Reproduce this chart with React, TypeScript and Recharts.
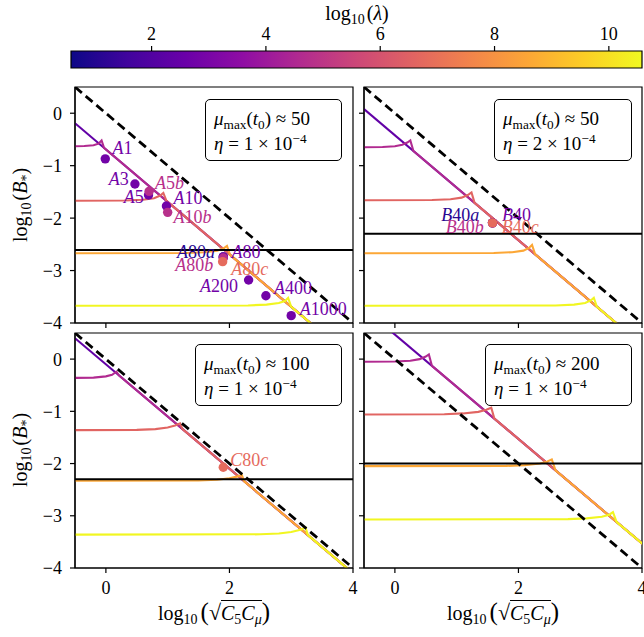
import React from "react";
import { ComposedChart, Line, Scatter, XAxis, YAxis, ReferenceLine, ReferenceArea } from "recharts";

const W = 644;
const H = 637;
const FONT = "'Liberation Serif', 'DejaVu Serif', serif";

// ---------- colour bar ----------
const lambdaRange: [number, number] = [0.59, 10.58];
const lambdaTicks = [2, 4, 6, 8, 10];
const plasmaStops = ["#0d0887", "#41049d", "#6a00a8", "#8f0da4", "#b12a90", "#cc4778", "#e16462", "#f2844b", "#fca636", "#fcce25", "#f0f921"];

// ---------- shared axes ----------
const xDomain: [number, number] = [-0.5, 4];
const yDomain: [number, number] = [-4, 0.5];
const xTicks = [0, 2, 4];
const yTicks = [0, -1, -2, -3, -4];
const dashedLine: [number, number][] = [[-0.5, 0.5], [4, -4]];

// ---------- panel A : mu=50, eta=1e-4 ----------
const lamTraj = [2.4, 4.6, 6.6, 8.6, 10.5];
const A_t0: [number, number][] = [[-0.5, -0.19], [3.41, -4.1]];
const A_t1: [number, number][] = [[-0.5, -0.63], [-0.35, -0.625], [-0.2, -0.61], [-0.12, -0.58], [-0.07, -0.52], [-0.03, -0.66], [3.41, -4.1]];
const A_t2: [number, number][] = [[-0.5, -1.67], [0.3, -1.665], [0.6, -1.65], [0.78, -1.62], [0.88, -1.57], [0.93, -1.52], [0.98, -1.67], [3.41, -4.1]];
const A_t3: [number, number][] = [[-0.5, -2.67], [1.3, -2.665], [1.6, -2.65], [1.8, -2.62], [1.9, -2.58], [1.96, -2.53], [2.01, -2.7], [3.41, -4.1]];
const A_t4: [number, number][] = [[-0.5, -3.67], [2.3, -3.665], [2.6, -3.65], [2.8, -3.62], [2.9, -3.58], [2.95, -3.52], [3.0, -3.69], [3.41, -4.1]];
const A_hline = -2.61;
const A_dotNames = ["A1", "A3", "A5", "A5b", "A10", "A10b", "A200", "A400", "A1000", "A80a", "A80", "A80b", "A80c"];
const A_dotX = [-0.01, 0.47, 0.69, 0.7, 0.98, 1.0, 2.31, 2.59, 3.0, 1.9, 1.9, 1.9, 1.89];
const A_dotY = [-0.87, -1.35, -1.56, -1.49, -1.77, -1.89, -3.18, -3.48, -3.86, -2.74, -2.74, -2.76, -2.83];
const A_dotLam = [2.8, 2.8, 2.8, 4.8, 2.8, 4.8, 2.8, 2.8, 2.8, 1.1, 2.8, 4.8, 6.8];
const A_labX = [0.27, 0.21, 0.45, 1.03, 1.33, 1.4, 1.83, 3.03, 3.52, 1.46, 2.27, 1.43, 2.33];
const A_labY = [-0.67, -1.25, -1.6, -1.33, -1.61, -1.97, -3.3, -3.33, -3.73, -2.64, -2.64, -2.89, -2.97];

// ---------- panel B : mu=50, eta=2e-4 ----------
const B_t0: [number, number][] = [[-0.5, 0.08], [3.68, -4.1]];
const B_t1: [number, number][] = [[-0.5, -0.65], [-0.2, -0.645], [0.0, -0.63], [0.12, -0.6], [0.2, -0.56], [0.25, -0.52], [0.3, -0.72], [3.68, -4.1]];
const B_t2: [number, number][] = [[-0.5, -1.66], [0.6, -1.655], [0.9, -1.64], [1.08, -1.61], [1.18, -1.56], [1.24, -1.51], [1.29, -1.71], [3.68, -4.1]];
const B_t3: [number, number][] = [[-0.5, -2.67], [1.6, -2.665], [1.9, -2.65], [2.08, -2.62], [2.17, -2.57], [2.22, -2.51], [2.27, -2.69], [3.68, -4.1]];
const B_t4: [number, number][] = [[-0.5, -3.67], [2.6, -3.665], [2.9, -3.65], [3.08, -3.62], [3.17, -3.57], [3.22, -3.52], [3.27, -3.69], [3.68, -4.1]];
const B_hline = -2.3;
const B_dotNames = ["B40a", "B40", "B40b", "B40c"];
const B_dotX = [1.58, 1.58, 1.58, 1.58];
const B_dotY = [-2.09, -2.09, -2.09, -2.09];
const B_dotLam = [1.1, 2.8, 4.8, 6.8];
const B_labX = [1.06, 1.97, 1.13, 2.03];
const B_labY = [-1.94, -1.94, -2.16, -2.16];

// ---------- panel C : mu=100, eta=1e-4 ----------
const C_t0: [number, number][] = [[-0.5, 0.4], [4.0, -4.1]];
const C_t1: [number, number][] = [[-0.5, -0.36], [-0.2, -0.355], [0.0, -0.33], [0.1, -0.3], [0.17, -0.24], [0.21, -0.31], [4.0, -4.1]];
const C_t2: [number, number][] = [[-0.5, -1.36], [0.5, -1.355], [0.8, -1.34], [1.0, -1.31], [1.12, -1.27], [1.2, -1.23], [1.24, -1.34], [4.0, -4.1]];
const C_t3: [number, number][] = [[-0.5, -2.33], [1.5, -2.325], [1.8, -2.31], [2.0, -2.28], [2.12, -2.25], [2.2, -2.22], [2.24, -2.34], [4.0, -4.1]];
const C_t4: [number, number][] = [[-0.5, -3.36], [2.5, -3.355], [2.8, -3.34], [3.0, -3.31], [3.15, -3.27], [3.23, -3.22], [3.27, -3.37], [4.0, -4.1]];
const C_hline = -2.3;
const C_dotNames = ["C80c"];
const C_dotX = [1.9];
const C_dotY = [-2.07];
const C_dotLam = [6.8];
const C_labX = [2.32];
const C_labY = [-1.93];

// ---------- panel D : mu=200, eta=1e-4 ----------
const D_t0: [number, number][] = [[-0.1, 0.57], [4.2, -3.73]];
const D_t1: [number, number][] = [[-0.5, -0.05], [0.0, -0.045], [0.25, -0.03], [0.4, 0.0], [0.5, 0.05], [0.55, 0.09], [0.6, -0.13], [4.2, -3.73]];
const D_t2: [number, number][] = [[-0.5, -1.06], [0.8, -1.055], [1.1, -1.04], [1.35, -1.01], [1.48, -0.97], [1.56, -0.93], [1.61, -1.14], [4.2, -3.73]];
const D_t3: [number, number][] = [[-0.5, -2.05], [1.8, -2.045], [2.1, -2.03], [2.35, -2.0], [2.47, -1.96], [2.54, -1.92], [2.6, -2.13], [4.2, -3.73]];
const D_t4: [number, number][] = [[-0.5, -3.07], [2.8, -3.065], [3.1, -3.05], [3.35, -3.02], [3.47, -2.98], [3.53, -2.93], [3.59, -3.12], [4.2, -3.73]];
const D_hline = -2.0;

// ---------- info boxes ----------
const boxMu = [50, 50, 100, 200];
const boxEtaMant = [1, 2, 1, 1];
const boxEtaExp = [4, 4, 4, 4];

// ---------- helpers ----------
function hexToRgb(h: string) {
  return [parseInt(h.slice(1, 3), 16), parseInt(h.slice(3, 5), 16), parseInt(h.slice(5, 7), 16)];
}
function plasma(lam: number) {
  let t = (lam - lambdaRange[0]) / (lambdaRange[1] - lambdaRange[0]);
  t = Math.max(0, Math.min(1, t));
  const n = plasmaStops.length - 1;
  const i = Math.min(n - 1, Math.floor(t * n));
  const f = t * n - i;
  const a = hexToRgb(plasmaStops[i]);
  const b = hexToRgb(plasmaStops[i + 1]);
  const c = a.map((v, k) => Math.round(v + (b[k] - v) * f));
  return `rgb(${c[0]},${c[1]},${c[2]})`;
}
const toPts = (arr: [number, number][]) => arr.map(([x, y]) => ({ x, y }));
const fmt = (v: number) => (v < 0 ? `\u2212${Math.abs(v)}` : `${v}`);

function SerifTick(props: any) {
  const { x, y, payload, textAnchor, verticalAnchor } = props;
  const dy = verticalAnchor === "start" ? "0.71em" : verticalAnchor === "middle" ? "0.355em" : "0";
  return (
    <text x={x} y={y} dy={dy} textAnchor={textAnchor} fill="#000" fontSize={18} style={{ fontFamily: FONT }}>
      {fmt(payload.value)}
    </text>
  );
}
const NoTick = () => <g />;

function LabelText(props: any) {
  const { cx, cy, payload } = props;
  const m = /^([A-Z])(\d+)([a-z]?)$/.exec(payload.name);
  const color = plasma(payload.lam);
  return (
    <text x={cx} y={cy} textAnchor="middle" dominantBaseline="central" fill={color} fontSize={18} style={{ fontFamily: FONT }}>
      {m ? (
        <>
          <tspan fontStyle="italic">{m[1]}</tspan>
          <tspan>{m[2]}</tspan>
          {m[3] ? <tspan fontStyle="italic">{m[3]}</tspan> : null}
        </>
      ) : (
        payload.name
      )}
    </text>
  );
}
function DotShape(props: any) {
  const { cx, cy, payload } = props;
  return <circle cx={cx} cy={cy} r={4.7} fill={plasma(payload.lam)} />;
}

type Rect = { left: number; top: number; right: number; bottom: number };

function Panel(props: {
  rect: Rect;
  trajs: [number, number][][];
  hline: number;
  names?: string[];
  dx?: number[];
  dy?: number[];
  dl?: number[];
  lx?: number[];
  ly?: number[];
  showX: boolean;
  showY: boolean;
}) {
  const { rect, trajs, hline, names = [], dx = [], dy = [], dl = [], lx = [], ly = [], showX, showY } = props;
  const xAxisH = 40;
  const yAxisW = 40;
  const margin = { top: rect.top, left: rect.left - yAxisW, right: W - rect.right, bottom: H - rect.bottom - xAxisH };
  const dots = names.map((n, i) => ({ x: dx[i], y: dy[i], lam: dl[i], name: n }));
  const labels = names.map((n, i) => ({ x: lx[i], y: ly[i], lam: dl[i], name: n }));
  return (
    <div style={{ position: "absolute", left: 0, top: 0 }}>
      <ComposedChart width={W} height={H} margin={margin} style={{ fontFamily: FONT }}>
        <XAxis
          type="number"
          dataKey="x"
          domain={xDomain}
          ticks={xTicks}
          allowDataOverflow
          height={xAxisH}
          tickSize={5}
          tickMargin={8}
          stroke="#000"
          tick={showX ? <SerifTick /> : <NoTick />}
          tickLine={{ stroke: "#000", strokeWidth: 1.2 }}
          axisLine={{ stroke: "#000", strokeWidth: 1.2 }}
          interval={0}
        />
        <YAxis
          type="number"
          dataKey="y"
          domain={yDomain}
          ticks={yTicks}
          allowDataOverflow
          width={yAxisW}
          tickSize={5}
          tickMargin={8}
          stroke="#000"
          tick={showY ? <SerifTick /> : <NoTick />}
          tickLine={{ stroke: "#000", strokeWidth: 1.2 }}
          axisLine={{ stroke: "#000", strokeWidth: 1.2 }}
          interval={0}
        />
        {trajs.map((t, i) => (
          <Line
            key={"t" + i}
            data={toPts(t)}
            dataKey="y"
            type="linear"
            stroke={plasma(lamTraj[i])}
            strokeWidth={2.1}
            dot={false}
            activeDot={false}
            isAnimationActive={false}
          />
        ))}
        <ReferenceLine y={hline} stroke="#000" strokeWidth={2} />
        <Line
          data={toPts(dashedLine)}
          dataKey="y"
          type="linear"
          stroke="#000"
          strokeWidth={2.8}
          strokeDasharray="9 5"
          dot={false}
          activeDot={false}
          isAnimationActive={false}
        />
        {dots.length > 0 && <Scatter data={dots} shape={DotShape} isAnimationActive={false} />}
        {labels.length > 0 && <Scatter data={labels} shape={LabelText} isAnimationActive={false} />}
        <ReferenceArea x1={xDomain[0]} x2={xDomain[1]} y1={yDomain[0]} y2={yDomain[1]} fill="none" fillOpacity={0} stroke="#000" strokeWidth={1.2} />
      </ComposedChart>
    </div>
  );
}

const Sub = ({ children }: any) => (
  <span style={{ fontSize: "0.7em", position: "relative", top: "0.3em" }}>{children}</span>
);
const Sup = ({ children }: any) => (
  <span style={{ fontSize: "0.7em", position: "relative", top: "-0.5em" }}>{children}</span>
);

function InfoBox({ left, top, width, i }: { left: number; top: number; width: number; i: number }) {
  return (
    <div
      style={{
        position: "absolute",
        left,
        top,
        width,
        height: 62,
        border: "1.3px solid #000",
        borderRadius: 5,
        boxSizing: "border-box",
        background: "#fff",
        fontFamily: FONT,
        fontSize: 19,
        lineHeight: "23px",
        padding: "7px 0 0 8px",
        whiteSpace: "nowrap",
        color: "#000",
      }}
    >
      <div>
        <i>μ</i>
        <Sub>max</Sub>(<i>t</i>
        <Sub>0</Sub>) ≈ {boxMu[i]}
      </div>
      <div>
        <i>η</i> = {boxEtaMant[i]} × 10<Sup>−{boxEtaExp[i]}</Sup>
      </div>
    </div>
  );
}

function YLabel({ cy }: { cy: number }) {
  return (
    <div
      style={{
        position: "absolute",
        left: 21,
        top: cy,
        transform: "translate(-50%, -50%) rotate(-90deg)",
        fontFamily: FONT,
        fontSize: 20,
        whiteSpace: "nowrap",
        lineHeight: "22px",
      }}
    >
      log<Sub>10</Sub>
      <span style={{ marginLeft: 2 }}>(</span>
      <i>B</i>
      <Sub>*</Sub>)
    </div>
  );
}
function XLabel({ cx }: { cx: number }) {
  return (
    <div
      style={{
        position: "absolute",
        left: cx,
        top: 614,
        transform: "translate(-50%, -50%)",
        fontFamily: FONT,
        fontSize: 20,
        whiteSpace: "nowrap",
        lineHeight: "26px",
      }}
    >
      log<Sub>10</Sub>
      <span style={{ fontSize: "1.25em", marginLeft: 3 }}>(</span>
      <span style={{ fontSize: "1.1em" }}>√</span>
      <span style={{ borderTop: "1px solid #000", paddingTop: 1 }}>
        <i>C</i>
        <Sub>5</Sub>
        <i>C</i>
        <Sub>
          <i>μ</i>
        </Sub>
      </span>
      <span style={{ fontSize: "1.25em" }}>)</span>
    </div>
  );
}

function ColorBar() {
  const cbData = [{ x: lambdaRange[0], y: 0 }, { x: lambdaRange[1], y: 1 }];
  return (
    <div style={{ position: "absolute", left: 0, top: 0 }}>
      <ComposedChart width={W} height={80} margin={{ top: 51 - 30, left: 71, right: W - 642, bottom: 80 - 68 }} data={cbData} style={{ fontFamily: FONT }}>
        <defs>
          <linearGradient id="plasmaGrad" x1="0" y1="0" x2="1" y2="0">
            {plasmaStops.map((c, i) => (
              <stop key={i} offset={`${(i / (plasmaStops.length - 1)) * 100}%`} stopColor={c} />
            ))}
          </linearGradient>
        </defs>
        <XAxis
          type="number"
          dataKey="x"
          orientation="top"
          domain={lambdaRange}
          ticks={lambdaTicks}
          allowDataOverflow
          height={30}
          tickSize={5}
          tickMargin={6}
          stroke="#000"
          tick={<SerifTick />}
          axisLine={false}
          tickLine={{ stroke: "#000", strokeWidth: 1.2 }}
          interval={0}
        />
        <YAxis type="number" dataKey="y" domain={[0, 1]} hide />
        <ReferenceArea x1={lambdaRange[0]} x2={lambdaRange[1]} y1={0} y2={1} fill="url(#plasmaGrad)" fillOpacity={1} stroke="#000" strokeWidth={1.2} />
      </ComposedChart>
    </div>
  );
}

export default function App() {
  const rA: Rect = { left: 75, top: 87, right: 353, bottom: 323 };
  const rB: Rect = { left: 364, top: 87, right: 642, bottom: 323 };
  const rC: Rect = { left: 75, top: 333, right: 353, bottom: 568 };
  const rD: Rect = { left: 364, top: 333, right: 642, bottom: 568 };
  return (
    <div style={{ position: "relative", width: W, height: H, overflow: "hidden", background: "#fff", fontFamily: FONT }}>
      <style>{"body{margin:0;}"}</style>
      <ColorBar />
      <div
        style={{
          position: "absolute",
          left: 357,
          top: 14,
          transform: "translate(-50%, -50%)",
          fontFamily: FONT,
          fontSize: 20,
          whiteSpace: "nowrap",
          lineHeight: "22px",
        }}
      >
        log<Sub>10</Sub>
        <span style={{ marginLeft: 2 }}>(</span>
        <i>λ</i>)
      </div>
      <Panel rect={rA} trajs={[A_t0, A_t1, A_t2, A_t3, A_t4]} hline={A_hline} names={A_dotNames} dx={A_dotX} dy={A_dotY} dl={A_dotLam} lx={A_labX} ly={A_labY} showX={false} showY={true} />
      <Panel rect={rB} trajs={[B_t0, B_t1, B_t2, B_t3, B_t4]} hline={B_hline} names={B_dotNames} dx={B_dotX} dy={B_dotY} dl={B_dotLam} lx={B_labX} ly={B_labY} showX={false} showY={false} />
      <Panel rect={rC} trajs={[C_t0, C_t1, C_t2, C_t3, C_t4]} hline={C_hline} names={C_dotNames} dx={C_dotX} dy={C_dotY} dl={C_dotLam} lx={C_labX} ly={C_labY} showX={true} showY={true} />
      <Panel rect={rD} trajs={[D_t0, D_t1, D_t2, D_t3, D_t4]} hline={D_hline} showX={true} showY={false} />
      <InfoBox left={205} top={99} width={137} i={0} />
      <InfoBox left={494} top={99} width={138} i={1} />
      <InfoBox left={195} top={344} width={147} i={2} />
      <InfoBox left={485} top={344} width={147} i={3} />
      <YLabel cy={205} />
      <YLabel cy={450} />
      <XLabel cx={214} />
      <XLabel cx={503} />
    </div>
  );
}
